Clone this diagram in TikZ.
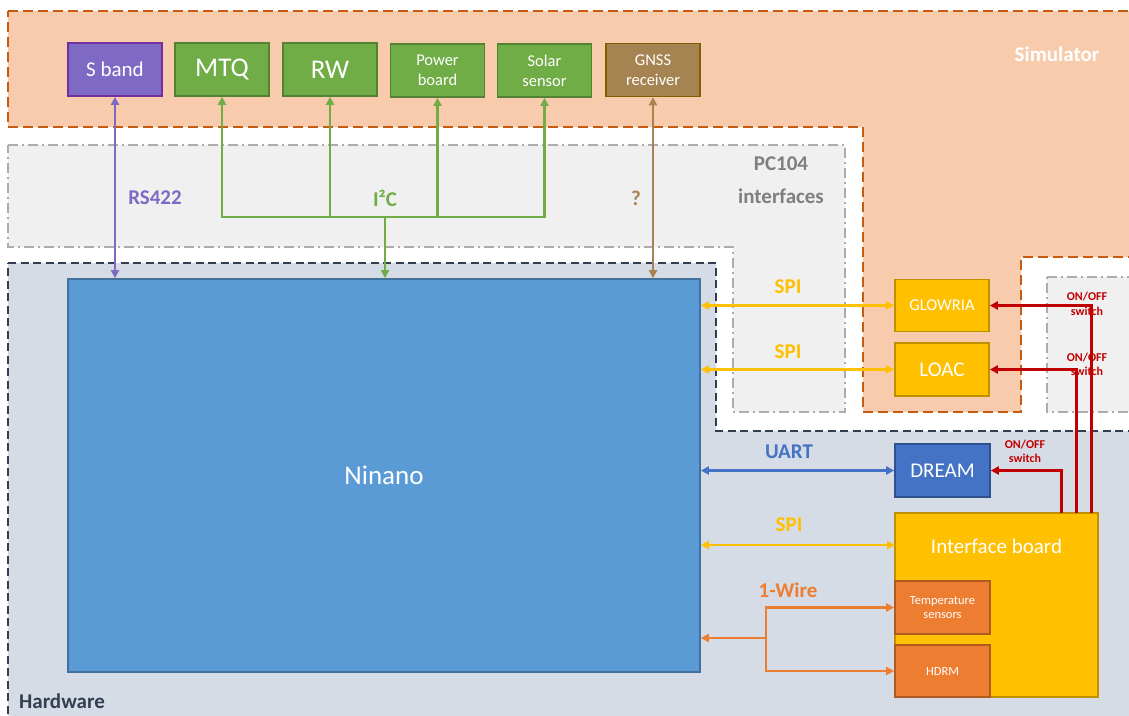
\documentclass[tikz,border=0pt]{standalone}
\usepackage{fontspec}
\setmainfont{Carlito}
\usetikzlibrary{arrows.meta}

\definecolor{simfill}{HTML}{F8CBAD}
\definecolor{simline}{HTML}{C55A11}
\definecolor{pcfill}{HTML}{F0F0F0}
\definecolor{pcline}{HTML}{AFABAB}
\definecolor{pcgrey}{HTML}{7F7F7F}
\definecolor{hwfill}{HTML}{D6DCE5}
\definecolor{hwline}{HTML}{333F50}
\definecolor{sbandfill}{HTML}{7E6AC4}
\definecolor{sbandline}{HTML}{7030A0}
\definecolor{busgreen}{HTML}{70AD47}
\definecolor{greenline}{HTML}{548235}
\definecolor{gnssfill}{HTML}{A68452}
\definecolor{gnssline}{HTML}{7F6000}
\definecolor{ninfill}{HTML}{5B9BD5}
\definecolor{ninline}{HTML}{41719C}
\definecolor{ifyellow}{HTML}{FFC000}
\definecolor{ifline}{HTML}{BF9000}
\definecolor{dreamfill}{HTML}{4472C4}
\definecolor{dreamline}{HTML}{2F528F}
\definecolor{wireorange}{HTML}{ED7D31}
\definecolor{orangeline}{HTML}{AE5A21}
\definecolor{swred}{HTML}{C00000}

\newcommand{\txtXL}{\fontsize{27}{30}\selectfont}
\newcommand{\txtL}{\fontsize{21}{24}\selectfont}
\newcommand{\txtM}{\fontsize{16.5}{20}\selectfont}
\newcommand{\txtS}{\fontsize{12.5}{14.5}\selectfont}
\newcommand{\txtXS}{\fontsize{12}{14.5}\selectfont}

\tikzset{
	blk/.style={draw, line width=1.6pt, minimum width=94pt, minimum height=53pt, inner sep=1pt, align=center, text=white},
	lnk/.style={line width=2.4pt},
	swline/.style={line width=3pt, swred},
	tag/.style={font=\txtL\bfseries},
	swtag/.style={font=\txtXS\bfseries, text=swred, align=center, inner sep=0pt},
	>={Triangle[length=8pt,width=8pt]}
}

\begin{document}
\begin{tikzpicture}[x=1pt,y=-1pt]
		\useasboundingbox (0,0) rectangle (1129,715);
		\fill[white] (0,0) rectangle (1129,715);
		% regions
		\path[fill=simfill, draw=simline, line width=2.2pt, dash pattern=on 10pt off 5pt] (8,11) -- (1140,11) -- (1140,257) -- (1021,257) -- (1021,412) -- (863,412) -- (863,127) -- (8,127) -- cycle;
		\path[fill=pcfill, draw=pcline, line width=2pt, dash pattern=on 10pt off 4pt on 2pt off 4pt] (8,145) -- (845,145) -- (845,412) -- (733,412) -- (733,247) -- (8,247) -- cycle;
		\path[fill=pcfill, draw=pcline, line width=2pt, dash pattern=on 10pt off 4pt on 2pt off 4pt] (1047,277) -- (1140,277) -- (1140,412) -- (1047,412) -- cycle;
		\path[fill=hwfill, draw=hwline, line width=2.2pt, dash pattern=on 8pt off 4.5pt] (8,263) -- (716,263) -- (716,431) -- (1140,431) -- (1140,725) -- (8,725) -- cycle;
		%
		\node[tag, text=white] (simtag) at (1057,54) {Simulator};
		\node[font=\fontsize{21}{33}\selectfont\bfseries, text=pcgrey, align=center] (pctag) at (781,180.5) {PC104\\interfaces};
		\node[tag, text=hwline] (hwtag) at (62,701) {Hardware};
		% simulated units
		\node[blk, fill=sbandfill, draw=sbandline, font=\txtL] (sband) at (115,69.5) {S band};
		\node[blk, fill=busgreen, draw=greenline, font=\txtXL] (mtq) at (222,69.5) {MTQ};
		\node[blk, fill=busgreen, draw=greenline, font=\txtXL] (rw) at (330,69.5) {RW};
		\node[blk, fill=busgreen, draw=greenline, font=\txtM] (power) at (437.5,70.5) {Power\\board};
		\node[blk, fill=busgreen, draw=greenline, font=\txtM] (solar) at (544.5,70.5) {Solar\\sensor};
		\node[blk, fill=gnssfill, draw=gnssline, font=\txtM] (gnss) at (653,70) {GNSS\\receiver};
		% hardware
		\node[blk, fill=ninfill, draw=ninline, minimum width=632pt, minimum height=393pt, font=\txtXL] (ninano) at (384,475.5) {Ninano};
		\node[blk, fill=ifyellow, draw=ifline, minimum height=52pt, font=\txtM] (glowria) at (942,305.5) {GLOWRIA};
		\node[blk, fill=ifyellow, draw=ifline, font=\txtL] (loac) at (942,369.5) {LOAC};
		\node[blk, fill=dreamfill, draw=dreamline, minimum width=95pt, font=\txtL] (dream) at (942.5,470.5) {DREAM};
		\node[blk, fill=ifyellow, draw=ifline, minimum width=203pt, minimum height=184pt] (iface) at (996.5,605) {};
		\node[font=\txtL, text=white] (ifacetag) at (996.5,546) {Interface board};
		\node[blk, fill=wireorange, draw=orangeline, minimum width=95pt, font=\txtS] (temp) at (942.5,607.5) {Temperature\\sensors};
		\node[blk, fill=wireorange, draw=orangeline, minimum width=95pt, minimum height=52pt, font=\txtS] (hdrm) at (942.5,671) {HDRM};
		% links to the simulator
		\draw[lnk, sbandfill, <->] (sband) -- (sband |- ninano.north);
		\node[tag, text=sbandfill] (rstag) at (155,198) {RS422};
		%
		\coordinate (bus) at (385,217);
		\draw[lnk, busgreen, <->] (mtq) |- (bus) -| (solar);
		\draw[lnk, busgreen, ->] (rw |- bus) -- (rw);
		\draw[lnk, busgreen, ->] (power |- bus) -- (power);
		\draw[lnk, busgreen, ->] (bus) -- (bus |- ninano.north);
		\node[tag, text=busgreen] (i2ctag) at (385,198) {I²C};
		%
		\draw[lnk, gnssfill, <->] (gnss) -- (gnss |- ninano.north);
		\node[tag, text=gnssfill] (qtag) at (636,198) {?};
		% links to the payloads
		\draw[lnk, ifyellow, <->] (glowria) -- (glowria -| ninano.east);
		\node[tag, text=ifyellow] (spia) at (788,287) {SPI};
		\draw[lnk, ifyellow, <->] (loac) -- (loac -| ninano.east);
		\node[tag, text=ifyellow] (spib) at (788,352) {SPI};
		\draw[lnk, dreamfill, <->] (dream) -- (dream -| ninano.east);
		\node[tag, text=dreamfill] (uarttag) at (789,452) {UART};
		\coordinate (spi) at (895,545);
		\draw[lnk, ifyellow, <->] (spi) -- (spi -| ninano.east);
		\node[tag, text=ifyellow] (spic) at (789,525) {SPI};
		%
		\coordinate (wj) at (766,638);
		\draw[lnk, wireorange, ->] (wj) -- (wj -| ninano.east);
		\draw[lnk, wireorange, <->] (temp) -| (wj) |- (hdrm);
		\node[tag, text=wireorange] (wiretag) at (788,590) {1-Wire};
		% power switches
		\coordinate (swd) at (1061,513);
		\coordinate (swl) at (1076,513);
		\coordinate (swg) at (1091,513);
		\draw[swline, ->] (swd) |- (dream);
		\draw[swline, ->] (swl) |- (loac);
		\draw[swline, ->] (swg) |- (glowria);
		\node[swtag] (swtaga) at (1087,304) {ON/OFF\\switch};
		\node[swtag] (swtagb) at (1087,364.5) {ON/OFF\\switch};
		\node[swtag] (swtagc) at (1025,451.5) {ON/OFF\\switch};
	\end{tikzpicture}
\end{document}
